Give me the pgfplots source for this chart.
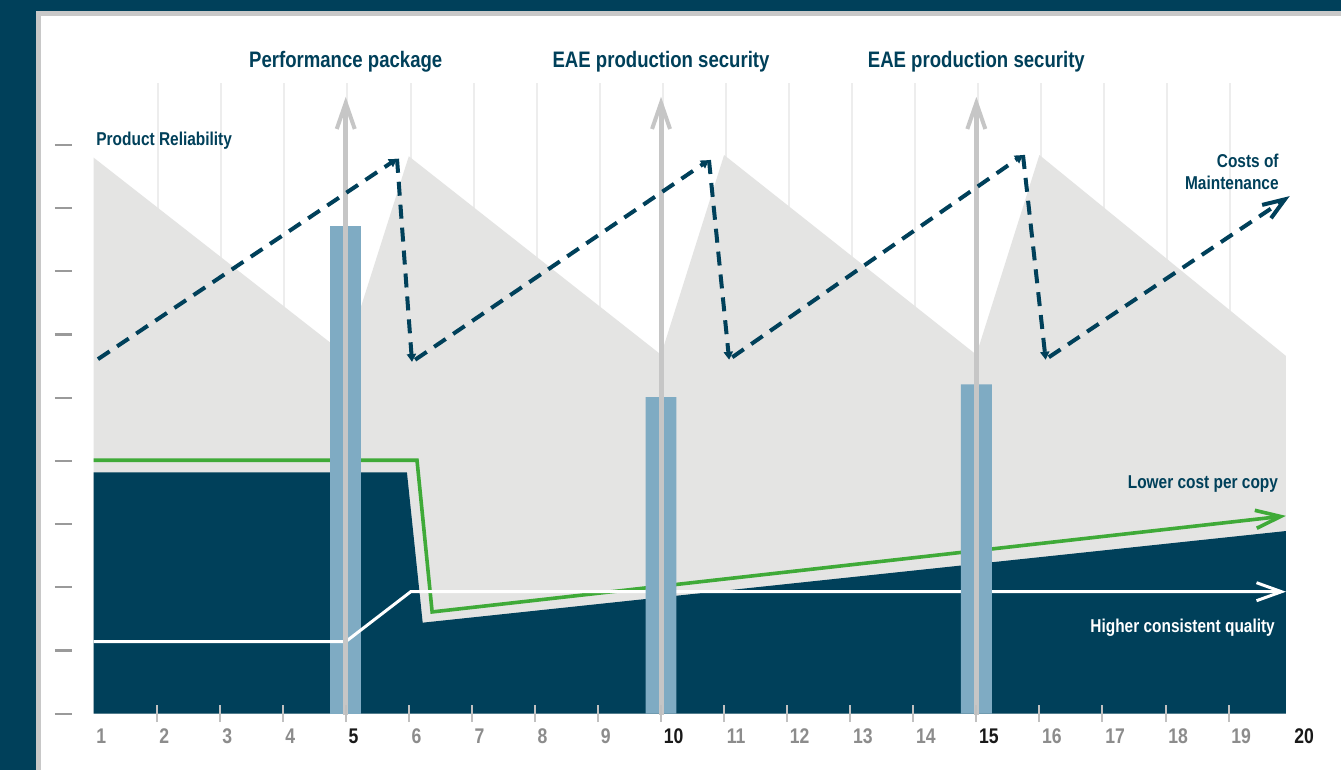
\documentclass[border=0pt]{standalone}
\usepackage{pgfplots}
\pgfplotsset{compat=1.18}
\usetikzlibrary{arrows.meta}
\usepackage{fontspec}
\setmainfont{Liberation Sans}[FakeStretch=0.83]
\definecolor{framedark}{HTML}{00405A}
\definecolor{framegray}{HTML}{C8C8C8}
\definecolor{areagray}{HTML}{E4E4E3}
\definecolor{barblue}{HTML}{7FABC3}
\definecolor{arrowgray}{HTML}{C6C6C6}
\definecolor{linegreen}{HTML}{3FAA38}
\definecolor{gridgray}{HTML}{EDEDED}
\definecolor{tickgray}{HTML}{8C8C8C}
\definecolor{ytickgray}{HTML}{9A9A9A}
\definecolor{xtickgray}{HTML}{C0C0C0}
\newcommand{\titlefont}{\bfseries\fontsize{11.2pt}{13pt}\selectfont}
\newcommand{\smallfont}{\bfseries\fontsize{9.3pt}{11pt}\selectfont}
\newcommand{\tickfont}{\bfseries\fontsize{10.6pt}{12pt}\selectfont}
\newcommand{\tg}[1]{\mbox{\tickfont\textcolor{tickgray}{#1}}}
\newcommand{\tb}[1]{\mbox{\tickfont\textcolor{black!90}{#1}}}
\begin{document}
\begin{tikzpicture}
\begin{axis}[
  width=670.5pt, height=385pt, scale only axis,
  xmin=-0.483, xmax=20.783, ymin=-0.891, ymax=11.293,
  axis background/.style={fill=framedark},
  axis x line*=middle, axis y line=none,
  x axis line style={draw=none},
  xtick={2,...,19}, xticklabels={},
  major tick length=8.5pt, tick align=center,
  xtick style={draw=xtickgray, line width=1pt},
  ytick=\empty,
  axis on top,
  extra x ticks={1,...,20},
  extra x tick labels={\tg{1},\tg{2},\tg{3},\tg{4},\tb{5},\tg{6},\tg{7},\tg{8},\tg{9},\tb{10},\tg{11},\tg{12},\tg{13},\tg{14},\tb{15},\tg{16},\tg{17},\tg{18},\tg{19},\tb{20}},
  extra x tick style={major tick length=0pt, tick label style={anchor=north west, inner sep=0pt, xshift=1.2pt, yshift=-7.2pt}},
]
% frame
\fill[framegray] (axis cs:0.088,-1) rectangle (axis cs:21,11.12);
\fill[white] (axis cs:0.1675,-1) rectangle (axis cs:21,11.04);
% vertical grid lines
\pgfplotsinvokeforeach{2,...,19}{\draw[gridgray, line width=1pt] (axis cs:#1+0.027,0) -- (axis cs:#1+0.027,9.98);}
% y tick dashes
\pgfplotsinvokeforeach{0,...,9}{\draw[ytickgray, line width=1.1pt] (axis cs:0.389,#1) -- (axis cs:0.659,#1);}
% product reliability area
\addplot[fill=areagray, draw=none] coordinates {(1,8.8)(5,5.68)(6,8.82)(10,5.68)(11,8.84)(15,5.68)(16,8.84)(19.91,5.66)} \closedcycle;
% dark area
\addplot[fill=framedark, draw=none] coordinates {(1,3.82)(5.97,3.82)(6.22,1.44)(19.91,2.89)} \closedcycle;
% green line: lower cost per copy
\addplot[linegreen, line width=1.8pt, -{Straight Barb[length=12.5pt,width=9pt]}] coordinates {(1,4.01)(6.13,4.01)(6.37,1.61)(19.91,3.13)};
% bar at 5
\addplot[ybar, bar shift=0pt, bar width=0.49, fill=barblue, draw=none] coordinates {(5,7.71)};
% white line: higher consistent quality
\addplot[white, line width=1.5pt, -{Straight Barb[length=12.5pt,width=9pt]}] coordinates {(1,1.14)(5,1.14)(6.03,1.93)(19.91,1.93)};
% bars at 10, 15
\addplot[ybar, bar shift=0pt, bar width=0.49, fill=barblue, draw=none] coordinates {(10,5.01)(15,5.21)};
% gray arrows
\addplot[arrowgray, line width=2.5pt, -{Straight Barb[length=13pt,width=9pt,line width=2pt]}] coordinates {(5,-0.02)(5,9.76)};
\addplot[arrowgray, line width=2.5pt, -{Straight Barb[length=13pt,width=9pt,line width=2pt]}] coordinates {(10,-0.02)(10,9.76)};
\addplot[arrowgray, line width=2.5pt, -{Straight Barb[length=13pt,width=9pt,line width=2pt]}] coordinates {(15,-0.02)(15,9.76)};
% dashed costs of maintenance
\pgfplotsset{dashcost/.style={framedark, line width=2pt, dash pattern=on 7pt off 4.5pt}}
\addplot[dashcost, -{Triangle[length=4pt,width=4.5pt]}] coordinates {(1.071,5.61)(5.813,8.78)};
\addplot[dashcost, -{Triangle[length=4pt,width=4.5pt]}] coordinates {(5.813,8.78)(6.051,5.565)};
\addplot[dashcost, -{Triangle[length=4pt,width=4.5pt]}] coordinates {(6.10,5.60)(10.76,8.76)};
\addplot[dashcost, -{Triangle[length=4pt,width=4.5pt]}] coordinates {(10.76,8.76)(11.08,5.60)};
\addplot[dashcost, -{Triangle[length=4pt,width=4.5pt]}] coordinates {(11.13,5.64)(15.74,8.84)};
\addplot[dashcost, -{Triangle[length=4pt,width=4.5pt]}] coordinates {(15.74,8.84)(16.10,5.60)};
\addplot[dashcost, -{Straight Barb[length=11pt,width=8pt]}] coordinates {(16.15,5.64)(19.97,8.19)};
% texts
\node[anchor=base, font=\titlefont, text=framedark, inner sep=0pt] at (axis cs:5,10.22) {Performance package};
\node[anchor=base, font=\titlefont, text=framedark, inner sep=0pt] at (axis cs:10,10.22) {EAE production security};
\node[anchor=base, font=\titlefont, text=framedark, inner sep=0pt] at (axis cs:15,10.22) {EAE production security};
\node[anchor=base west, font=\smallfont, text=framedark, inner sep=0pt] at (axis cs:1.04,8.99) {Product Reliability};
\node[anchor=base east, font=\smallfont, text=framedark, inner sep=0pt] at (axis cs:19.80,8.65) {Costs of};
\node[anchor=base east, font=\smallfont, text=framedark, inner sep=0pt] at (axis cs:19.80,8.30) {Maintenance};
\node[anchor=base east, font=\smallfont, text=framedark, inner sep=0pt] at (axis cs:19.79,3.57) {Lower cost per copy};
\node[anchor=base east, font=\smallfont, text=white, inner sep=0pt] at (axis cs:19.74,1.29) {Higher consistent quality};
\end{axis}
\end{tikzpicture}
\end{document}
